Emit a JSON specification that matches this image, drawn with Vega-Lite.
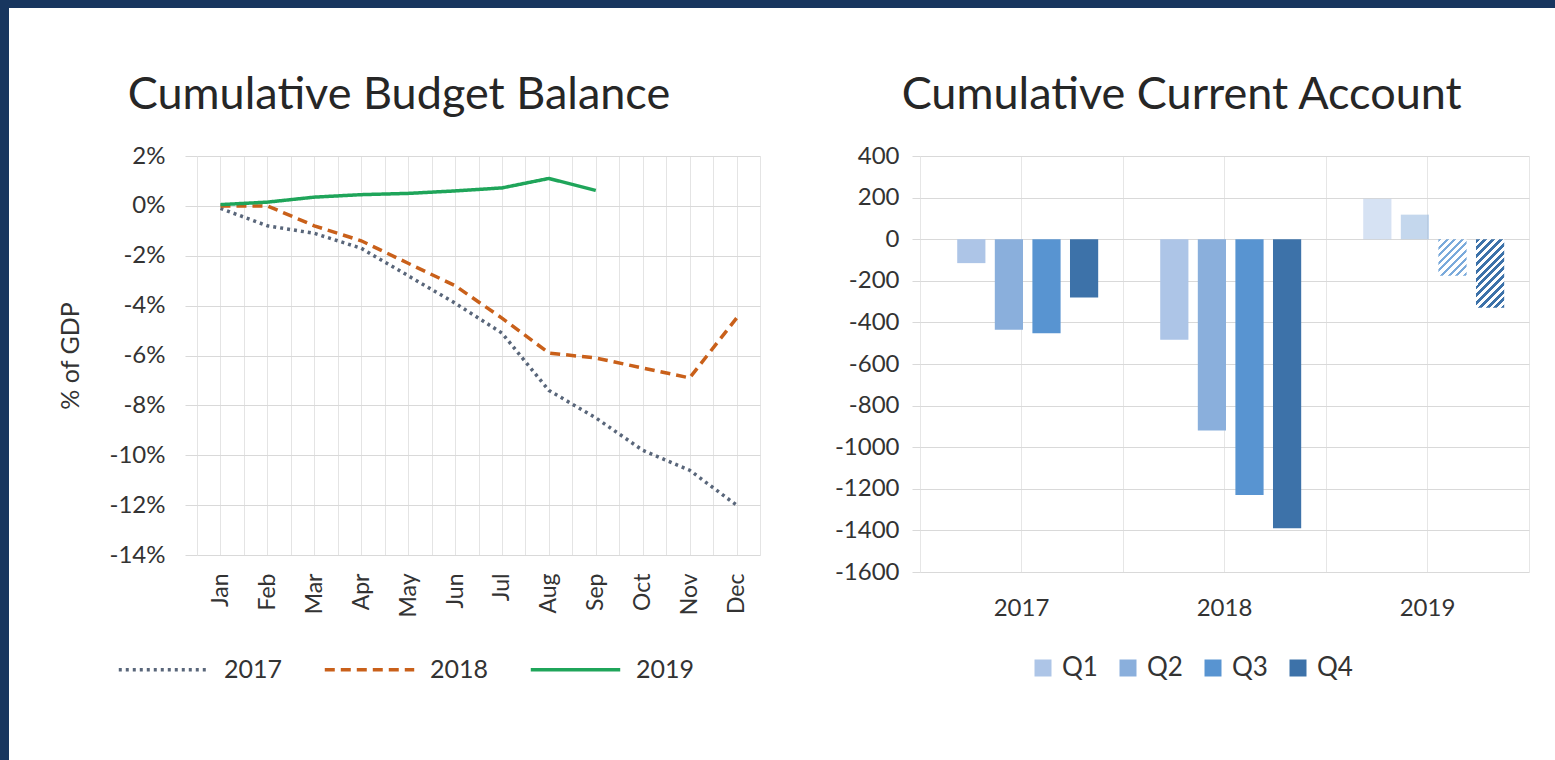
{
  "$schema": "https://vega.github.io/schema/vega-lite/v6.json",
  "padding": 0,
  "background": "white",
  "spacing": 0,
  "config": {
    "font": "Lato",
    "view": {"stroke": null},
    "axis": {"labelFont": "Lato", "titleFont": "Lato", "labelColor": "#333333", "titleColor": "#333333", "titleFontWeight": "normal"},
    "legend": {"labelFont": "Lato", "labelColor": "#333333"},
    "title": {"font": "Lato", "fontWeight": "normal", "color": "#262626"}
  },
  "hconcat": [
    {"width": 9, "height": 760, "view": {"fill": "#18365f", "stroke": null}, "data": {"values": []}, "mark": "point", "encoding": {}},
    {
      "spacing": 65,
      "vconcat": [
        {"width": 1546, "height": 8, "view": {"fill": "#18365f", "stroke": null}, "data": {"values": []}, "mark": "point", "encoding": {}},
        {
          "spacing": 10,
          "resolve": {
            "scale": {"color": "independent", "strokeDash": "independent", "opacity": "independent"},
            "legend": {"color": "independent", "strokeDash": "independent", "opacity": "independent"}
          },
          "hconcat": [
            {"width": 39, "height": 1, "data": {"values": []}, "mark": "point", "encoding": {}},
            {
              "width": 563,
              "height": 399,
              "title": {"text": "Cumulative Budget Balance", "fontSize": 45, "anchor": "middle", "frame": "bounds", "offset": 26, "dx": -16},
              "data": {"values": [
                {"year": "2017", "month": "Jan", "m": 1, "value": -0.1},
                {"year": "2017", "month": "Feb", "m": 2, "value": -0.8},
                {"year": "2017", "month": "Mar", "m": 3, "value": -1.1},
                {"year": "2017", "month": "Apr", "m": 4, "value": -1.7},
                {"year": "2017", "month": "May", "m": 5, "value": -2.8},
                {"year": "2017", "month": "Jun", "m": 6, "value": -3.9},
                {"year": "2017", "month": "Jul", "m": 7, "value": -5.1},
                {"year": "2017", "month": "Aug", "m": 8, "value": -7.4},
                {"year": "2017", "month": "Sep", "m": 9, "value": -8.5},
                {"year": "2017", "month": "Oct", "m": 10, "value": -9.8},
                {"year": "2017", "month": "Nov", "m": 11, "value": -10.6},
                {"year": "2017", "month": "Dec", "m": 12, "value": -12.0},
                {"year": "2018", "month": "Jan", "m": 1, "value": 0.0},
                {"year": "2018", "month": "Feb", "m": 2, "value": 0.0},
                {"year": "2018", "month": "Mar", "m": 3, "value": -0.8},
                {"year": "2018", "month": "Apr", "m": 4, "value": -1.4},
                {"year": "2018", "month": "May", "m": 5, "value": -2.3},
                {"year": "2018", "month": "Jun", "m": 6, "value": -3.2},
                {"year": "2018", "month": "Jul", "m": 7, "value": -4.5},
                {"year": "2018", "month": "Aug", "m": 8, "value": -5.9},
                {"year": "2018", "month": "Sep", "m": 9, "value": -6.1},
                {"year": "2018", "month": "Oct", "m": 10, "value": -6.5},
                {"year": "2018", "month": "Nov", "m": 11, "value": -6.9},
                {"year": "2018", "month": "Dec", "m": 12, "value": -4.5},
                {"year": "2019", "month": "Jan", "m": 1, "value": 0.05},
                {"year": "2019", "month": "Feb", "m": 2, "value": 0.15},
                {"year": "2019", "month": "Mar", "m": 3, "value": 0.35},
                {"year": "2019", "month": "Apr", "m": 4, "value": 0.45},
                {"year": "2019", "month": "May", "m": 5, "value": 0.5},
                {"year": "2019", "month": "Jun", "m": 6, "value": 0.6},
                {"year": "2019", "month": "Jul", "m": 7, "value": 0.72},
                {"year": "2019", "month": "Aug", "m": 8, "value": 1.1},
                {"year": "2019", "month": "Sep", "m": 9, "value": 0.62}
              ]},
              "mark": {"type": "line", "strokeWidth": 3.5},
              "encoding": {
                "x": {
                  "field": "m", "type": "quantitative",
                  "scale": {"domain": [0.5, 12.5], "nice": false, "zero": false},
                  "axis": {
                    "values": [0.5, 1, 1.5, 2, 2.5, 3, 3.5, 4, 4.5, 5, 5.5, 6, 6.5, 7, 7.5, 8, 8.5, 9, 9.5, 10, 10.5, 11, 11.5, 12, 12.5],
                    "labelExpr": "datum.value % 1 == 0 ? ['Jan','Feb','Mar','Apr','May','Jun','Jul','Aug','Sep','Oct','Nov','Dec'][datum.value - 1] : ''",
                    "labelAngle": 270, "labelAlign": "right", "labelBaseline": "middle",
                    "labelFontSize": 23, "labelPadding": 18, "labelOverlap": false, "labelFlush": false, "labelBound": false,
                    "ticks": false, "domain": false, "grid": true, "gridColor": "#e4e4e4", "title": null
                  }
                },
                "y": {
                  "field": "value", "type": "quantitative",
                  "scale": {"domain": [-14, 2], "nice": false, "zero": false},
                  "axis": {
                    "values": [-14, -12, -10, -8, -6, -4, -2, 0, 2],
                    "labelExpr": "datum.value + '%'",
                    "labelFontSize": 24, "labelPadding": 20, "tickSize": 12, "tickColor": "#d9d9d9",
                    "domain": false, "grid": true, "gridColor": "#d9d9d9",
                    "title": "% of GDP", "titleFontSize": 25, "titlePadding": 26
                  }
                },
                "color": {
                  "field": "year", "type": "nominal",
                  "scale": {"domain": ["2017", "2018", "2019"], "range": ["#59667a", "#c9601a", "#1fa55a"]},
                  "legend": {"orient": "none", "legendX": -80, "legendY": 467, "direction": "horizontal", "title": null, "symbolType": "stroke", "symbolSize": 8000, "symbolStrokeWidth": 3.5, "labelFontSize": 25, "labelOffset": 14, "columnPadding": 34}
                },
                "strokeDash": {
                  "field": "year", "type": "nominal",
                  "scale": {"domain": ["2017", "2018", "2019"], "range": [[3, 4], [10, 6], [1, 0]]},
                  "legend": {"orient": "none", "legendX": -80, "legendY": 467, "direction": "horizontal", "title": null, "symbolType": "stroke", "symbolSize": 8000, "symbolStrokeWidth": 3.5, "labelFontSize": 25, "labelOffset": 14, "columnPadding": 34}
                }
              }
            },
            {"width": 42, "height": 1, "data": {"values": []}, "mark": "point", "encoding": {}},
            {
              "width": 609,
              "height": 416,
              "title": {"text": "Cumulative Current Account", "fontSize": 45, "anchor": "middle", "frame": "bounds", "offset": 26, "dx": 0},
              "data": {"values": [
                {"year": "2017", "quarter": "Q1", "value": -115, "status": "Actual"},
                {"year": "2017", "quarter": "Q2", "value": -435, "status": "Actual"},
                {"year": "2017", "quarter": "Q3", "value": -452, "status": "Actual"},
                {"year": "2017", "quarter": "Q4", "value": -280, "status": "Actual"},
                {"year": "2018", "quarter": "Q1", "value": -483, "status": "Actual"},
                {"year": "2018", "quarter": "Q2", "value": -920, "status": "Actual"},
                {"year": "2018", "quarter": "Q3", "value": -1230, "status": "Actual"},
                {"year": "2018", "quarter": "Q4", "value": -1390, "status": "Actual"},
                {"year": "2019", "quarter": "Q1", "value": 195, "status": "Preliminary"},
                {"year": "2019", "quarter": "Q2", "value": 118, "status": "Preliminary"},
                {"year": "2019", "quarter": "Q3", "value": -176, "status": "Projection"},
                {"year": "2019", "quarter": "Q4", "value": -330, "status": "Projection"}
              ]},
              "layer": [
                {
                  "transform": [{"filter": "datum.status != 'Projection'"}],
                  "mark": {"type": "bar"},
                  "encoding": {
                    "x": {"field": "year", "type": "nominal", "scale": {"domain": ["2017", "2018", "2019"], "paddingInner": 0, "paddingOuter": 0},
                      "axis": {"orient": "bottom", "labelAngle": 0, "labelFontSize": 24, "labelPadding": 24, "ticks": false, "domain": false, "grid": true, "gridColor": "#e6e6e6", "title": null}},
                    "xOffset": {"field": "quarter", "type": "nominal", "scale": {"domain": ["Q1", "Q2", "Q3", "Q4"], "paddingInner": 0.25, "paddingOuter": 0.825, "align": 0.6}},
                    "y": {"field": "value", "type": "quantitative", "scale": {"domain": [-1600, 400], "nice": false},
                      "axis": {"values": [-1600, -1400, -1200, -1000, -800, -600, -400, -200, 0, 200, 400], "labelExpr": "'' + datum.value", "labelFontSize": 24, "labelPadding": 13, "tickSize": 8, "tickColor": "#d9d9d9", "domain": false, "grid": true, "gridColor": "#d9d9d9", "title": null}},
                    "color": {"field": "quarter", "type": "nominal", "scale": {"domain": ["Q1", "Q2", "Q3", "Q4"], "range": ["#adc5e7", "#8aafdc", "#5894d1", "#3d72a9"]},
                      "legend": {"orient": "none", "legendX": 110, "legendY": 499, "direction": "horizontal", "title": null, "symbolType": "square", "symbolSize": 289, "symbolStrokeWidth": 0, "labelFontSize": 26, "labelOffset": 6, "columnPadding": 17}},
                    "opacity": {"field": "status", "type": "nominal", "scale": {"domain": ["Actual", "Preliminary"], "range": [1, 0.5]}, "legend": null}
                  }
                },
                {
                  "transform": [{"filter": "datum.year == '2019' && datum.quarter == 'Q3'"}],
                  "mark": {"type": "bar", "fill": {"gradient": "linear", "x1": 0, "y1": 0, "x2": 1, "y2": 1.3, "stops": [
                    {"offset": 0, "color": "#7aaadb"}, {"offset": 0.04, "color": "#7aaadb"}, {"offset": 0.04, "color": "#ffffff"}, {"offset": 0.1, "color": "#ffffff"},
                    {"offset": 0.1, "color": "#7aaadb"}, {"offset": 0.14, "color": "#7aaadb"}, {"offset": 0.14, "color": "#ffffff"}, {"offset": 0.2, "color": "#ffffff"},
                    {"offset": 0.2, "color": "#7aaadb"}, {"offset": 0.24, "color": "#7aaadb"}, {"offset": 0.24, "color": "#ffffff"}, {"offset": 0.3, "color": "#ffffff"},
                    {"offset": 0.3, "color": "#7aaadb"}, {"offset": 0.34, "color": "#7aaadb"}, {"offset": 0.34, "color": "#ffffff"}, {"offset": 0.4, "color": "#ffffff"},
                    {"offset": 0.4, "color": "#7aaadb"}, {"offset": 0.44, "color": "#7aaadb"}, {"offset": 0.44, "color": "#ffffff"}, {"offset": 0.5, "color": "#ffffff"},
                    {"offset": 0.5, "color": "#7aaadb"}, {"offset": 0.54, "color": "#7aaadb"}, {"offset": 0.54, "color": "#ffffff"}, {"offset": 0.6, "color": "#ffffff"},
                    {"offset": 0.6, "color": "#7aaadb"}, {"offset": 0.64, "color": "#7aaadb"}, {"offset": 0.64, "color": "#ffffff"}, {"offset": 0.7, "color": "#ffffff"},
                    {"offset": 0.7, "color": "#7aaadb"}, {"offset": 0.74, "color": "#7aaadb"}, {"offset": 0.74, "color": "#ffffff"}, {"offset": 0.8, "color": "#ffffff"},
                    {"offset": 0.8, "color": "#7aaadb"}, {"offset": 0.84, "color": "#7aaadb"}, {"offset": 0.84, "color": "#ffffff"}, {"offset": 0.9, "color": "#ffffff"},
                    {"offset": 0.9, "color": "#7aaadb"}, {"offset": 0.94, "color": "#7aaadb"}, {"offset": 0.94, "color": "#ffffff"}, {"offset": 1, "color": "#ffffff"}
                  ]}},
                  "encoding": {
                    "x": {"field": "year", "type": "nominal", "axis": null},
                    "xOffset": {"field": "quarter", "type": "nominal"},
                    "y": {"field": "value", "type": "quantitative"}
                  }
                },
                {
                  "transform": [{"filter": "datum.year == '2019' && datum.quarter == 'Q4'"}],
                  "mark": {"type": "bar", "fill": {"gradient": "linear", "x1": 0, "y1": 0, "x2": 1, "y2": 2.43, "stops": [
                    {"offset": 0, "color": "#3d72a9"}, {"offset": 0.02, "color": "#3d72a9"}, {"offset": 0.02, "color": "#ffffff"}, {"offset": 0.04, "color": "#ffffff"},
                    {"offset": 0.04, "color": "#3d72a9"}, {"offset": 0.06, "color": "#3d72a9"}, {"offset": 0.06, "color": "#ffffff"}, {"offset": 0.08, "color": "#ffffff"},
                    {"offset": 0.08, "color": "#3d72a9"}, {"offset": 0.1, "color": "#3d72a9"}, {"offset": 0.1, "color": "#ffffff"}, {"offset": 0.12, "color": "#ffffff"},
                    {"offset": 0.12, "color": "#3d72a9"}, {"offset": 0.14, "color": "#3d72a9"}, {"offset": 0.14, "color": "#ffffff"}, {"offset": 0.16, "color": "#ffffff"},
                    {"offset": 0.16, "color": "#3d72a9"}, {"offset": 0.18, "color": "#3d72a9"}, {"offset": 0.18, "color": "#ffffff"}, {"offset": 0.2, "color": "#ffffff"},
                    {"offset": 0.2, "color": "#3d72a9"}, {"offset": 0.22, "color": "#3d72a9"}, {"offset": 0.22, "color": "#ffffff"}, {"offset": 0.24, "color": "#ffffff"},
                    {"offset": 0.24, "color": "#3d72a9"}, {"offset": 0.26, "color": "#3d72a9"}, {"offset": 0.26, "color": "#ffffff"}, {"offset": 0.28, "color": "#ffffff"},
                    {"offset": 0.28, "color": "#3d72a9"}, {"offset": 0.3, "color": "#3d72a9"}, {"offset": 0.3, "color": "#ffffff"}, {"offset": 0.32, "color": "#ffffff"},
                    {"offset": 0.32, "color": "#3d72a9"}, {"offset": 0.34, "color": "#3d72a9"}, {"offset": 0.34, "color": "#ffffff"}, {"offset": 0.36, "color": "#ffffff"},
                    {"offset": 0.36, "color": "#3d72a9"}, {"offset": 0.38, "color": "#3d72a9"}, {"offset": 0.38, "color": "#ffffff"}, {"offset": 0.4, "color": "#ffffff"},
                    {"offset": 0.4, "color": "#3d72a9"}, {"offset": 0.42, "color": "#3d72a9"}, {"offset": 0.42, "color": "#ffffff"}, {"offset": 0.44, "color": "#ffffff"},
                    {"offset": 0.44, "color": "#3d72a9"}, {"offset": 0.46, "color": "#3d72a9"}, {"offset": 0.46, "color": "#ffffff"}, {"offset": 0.48, "color": "#ffffff"},
                    {"offset": 0.48, "color": "#3d72a9"}, {"offset": 0.5, "color": "#3d72a9"}, {"offset": 0.5, "color": "#ffffff"}, {"offset": 0.52, "color": "#ffffff"},
                    {"offset": 0.52, "color": "#3d72a9"}, {"offset": 0.54, "color": "#3d72a9"}, {"offset": 0.54, "color": "#ffffff"}, {"offset": 1, "color": "#ffffff"}
                  ]}},
                  "encoding": {
                    "x": {"field": "year", "type": "nominal", "axis": null},
                    "xOffset": {"field": "quarter", "type": "nominal"},
                    "y": {"field": "value", "type": "quantitative"}
                  }
                },
                {
                  "data": {"values": []},
                  "mark": {"type": "tick"},
                  "encoding": {
                    "x": {"field": "year", "type": "nominal",
                      "axis": {"orient": "bottom", "tickBand": "extent", "grid": true, "gridColor": "#e6e6e6", "labels": false, "ticks": false, "domain": false, "title": null}}
                  }
                }
              ],
              "resolve": {"axis": {"x": "independent"}}
            }
          ]
        }
      ]
    }
  ]
}
